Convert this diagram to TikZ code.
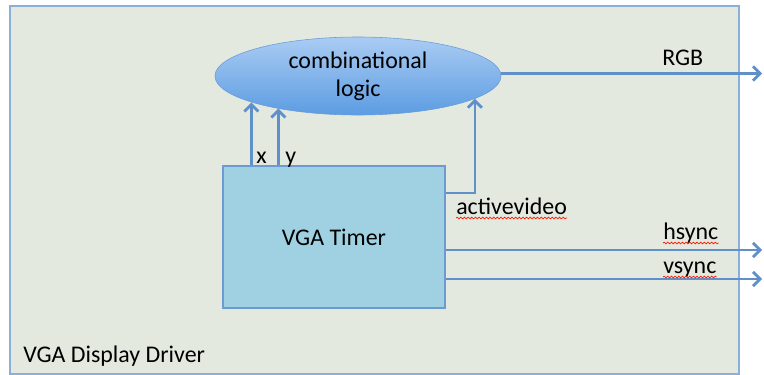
\documentclass[tikz,border=0pt]{standalone}
\usepackage{fontspec}
\setmainfont{Carlito}
\usetikzlibrary{calc,shapes.geometric,arrows.meta,decorations.pathmorphing}
\definecolor{drvfill}{HTML}{E4E9E0}
\definecolor{drvline}{HTML}{8CAFD8}
\definecolor{tmrfill}{HTML}{A0D1E3}
\definecolor{tmrline}{HTML}{6D9AD0}
\definecolor{sigline}{HTML}{5F90CA}
\definecolor{logtop}{HTML}{AACCF3}
\definecolor{logbot}{HTML}{5C9CE2}
\definecolor{logline}{HTML}{6A9BD8}
\tikzset{
	lbl/.style={font=\fontsize{17}{20}\selectfont, inner sep=0pt},
	sig/.style={sigline, line width=2pt},
	sigarrow/.style={sig, -{Straight Barb[length=5pt,width=10pt]}},
	squiggle/.style={red!80!orange, line width=0.5pt, decorate, decoration={snake,amplitude=0.6pt,segment length=2.6pt}}
}

\begin{document}
\begin{tikzpicture}[x=0.025cm,y=-0.025cm]
	\useasboundingbox (0,0) rectangle (764,375);
	
	%driver box
	\node[draw=drvline, fill=drvfill, line width=1.2pt, minimum width=18.225cm, minimum height=9.2cm, anchor=north west] (driver) at (9,5) {};
	
	%blocks
	\node[lbl, draw=tmrline, fill=tmrfill, line width=0.8pt, minimum width=5.55cm, minimum height=3.55cm] (timer) at (334,237) {VGA Timer};
	\node[lbl, ellipse, draw=logline, top color=logtop, bottom color=logbot, minimum width=7.15cm, minimum height=1.95cm, align=center] (logic) at (358,76) {combinational\\logic};
	\coordinate (rgbend) at (762,73);
	
	%signals
	\draw[sigarrow] ($(timer.north west)+(29,0)$) coordinate (xo) -- (xo |- logic.194);
	\draw[sigarrow] ($(timer.north west)+(56,0)$) coordinate (yo) -- (yo |- logic.202);
	\draw[sigarrow] ($(timer.east)+(0,-44)$) -| (logic.349);
	\draw[sigarrow] (logic.1) -- (logic.1 -| rgbend);
	\draw[sigarrow] ($(timer.east)+(0,13)$) coordinate (hso) -- (hso -| rgbend);
	\draw[sigarrow] ($(timer.east)+(0,42)$) coordinate (vso) -- (vso -| rgbend);
	
	%labels
	\node[lbl, anchor=base west] (xl) at (256,163) {x};
	\node[lbl, anchor=base west] (yl) at (285,163) {y};
	\node[lbl, anchor=base west] (av) at (456,214) {activevideo};
	\node[lbl, anchor=base west] (rgb) at (662,65) {RGB};
	\node[lbl, anchor=base west] (hs) at (663,239) {hsync};
	\node[lbl, anchor=base west] (vs) at (663,273) {vsync};
	\node[lbl, anchor=base west] (drvname) at (23,362) {VGA Display Driver};
	
	%spelling marks
	\draw[squiggle] ($(av.base west)+(0,4)$) -- ($(av.base east)+(0,4)$);
	\draw[squiggle] ($(hs.base west)+(0,4)$) -- ($(hs.base east)+(0,4)$);
	\draw[squiggle] ($(vs.base west)+(0,4)$) -- ($(vs.base east)+(0,4)$);
\end{tikzpicture}
\end{document}
